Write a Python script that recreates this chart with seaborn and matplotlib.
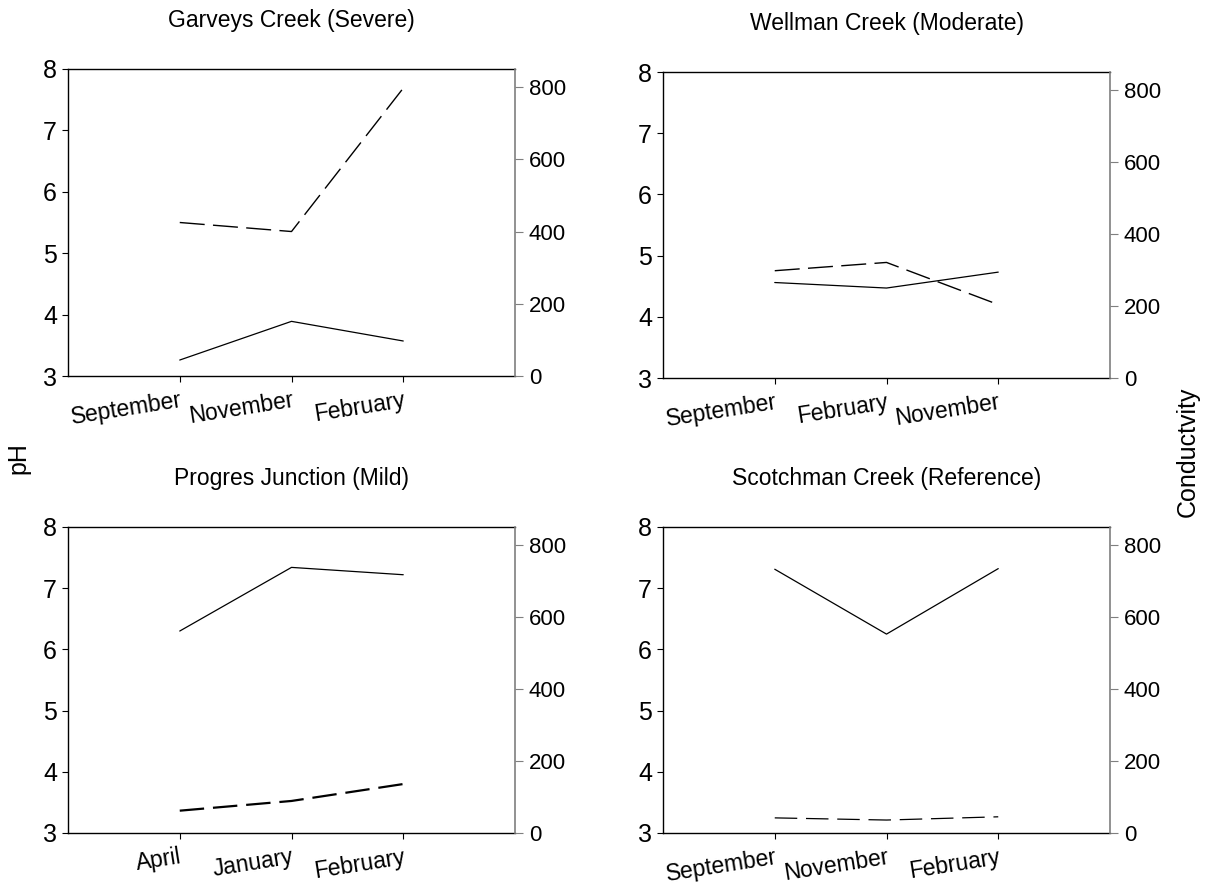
import matplotlib
matplotlib.use("Agg")
import matplotlib.pyplot as plt
import seaborn as sns

sns.set_style("ticks")
plt.rcParams['font.family'] = ['Liberation Sans', 'DejaVu Sans']
plt.rcParams.update({"text.color": "black", "axes.labelcolor": "black",
                     "xtick.color": "black", "ytick.color": "black",
                     "axes.edgecolor": "black"})

# Sampling months per site (in sampling order)
months_garveys = ["September", "November", "February"]
months_wellman = ["September", "February", "November"]
months_progres = ["April", "January", "February"]
months_scotchman = ["September", "November", "February"]

# pH (left axis)
ph_garveys = [3.26, 3.89, 3.57]
ph_wellman = [4.56, 4.47, 4.73]
ph_progres = [6.30, 7.34, 7.22]
ph_scotchman = [7.31, 6.25, 7.32]

# Conductivity (right axis)
cond_garveys = [425, 400, 797]
cond_wellman = [298, 321, 204]
cond_progres = [62, 89, 136]
cond_scotchman = [42, 36, 45]

titles = ["Garveys Creek (Severe)", "Wellman Creek (Moderate)",
          "Progres Junction (Mild)", "Scotchman Creek (Reference)"]

W, H = 1208, 884
fig = plt.figure(figsize=(W / 100, H / 100), dpi=100)

# axes boxes in pixels: left, top, right, bottom
boxes = [(68, 69, 515, 376), (663, 72, 1110, 378),
         (68, 527, 515, 833), (663, 527, 1110, 833)]

panels = [
    (months_garveys, ph_garveys, cond_garveys, 1.0, (18, 6)),
    (months_wellman, ph_wellman, cond_wellman, 1.0, (18, 6)),
    (months_progres, ph_progres, cond_progres, 1.6, (11, 4)),
    (months_scotchman, ph_scotchman, cond_scotchman, 0.9, (18, 7)),
]

grey = "#7f7f7f"
for (l, t, r, b), title, (months, ph, cond, dlw, dash) in zip(boxes, titles, panels):
    ax = fig.add_axes([l / W, 1 - b / H, (r - l) / W, (b - t) / H])
    sns.lineplot(x=months, y=ph, ax=ax, color="black", lw=0.9, sort=False)
    ax.set_xlim(-1, 3)
    ax.set_ylim(3, 8)
    ax.set_yticks([3, 4, 5, 6, 7, 8])
    ax.tick_params(axis="y", labelsize=18, length=4, width=0.8, pad=4, direction="out")
    ax.tick_params(axis="x", labelsize=16.5, length=4, width=0.8, pad=5, direction="out")
    for lab in ax.get_xticklabels():
        lab.set_rotation(9)
        lab.set_ha("right")
        lab.set_va("top")
        lab.set_rotation_mode("anchor")
    for s in ["left", "top", "bottom"]:
        ax.spines[s].set_color("black")
        ax.spines[s].set_linewidth(1.0)
    ax.spines["right"].set_visible(False)
    ax.set_xlabel("")
    ax.set_ylabel("")
    ax.set_title(title, fontsize=16.5, pad=30)

    ax2 = ax.twinx()
    sns.lineplot(x=months, y=cond, ax=ax2, color="black", lw=dlw, sort=False,
                 linestyle=(0, dash))
    ax2.set_ylim(0, 850)
    ax2.set_yticks([0, 200, 400, 600, 800])
    ax2.tick_params(axis="y", labelsize=16, length=6, width=0.8, pad=4,
                    color=grey, labelcolor="black", direction="out")
    for s in ["left", "top", "bottom"]:
        ax2.spines[s].set_visible(False)
    ax2.spines["right"].set_visible(True)
    ax2.spines["right"].set_color(grey)
    ax2.spines["right"].set_linewidth(1.2)
    ax2.set_ylabel("")

fig.text(18 / W, 1 - 458 / H, "pH", rotation=90, ha="center", va="center", fontsize=18)
fig.text(1188 / W, 1 - 452 / H, "Conductvity", rotation=90, ha="center", va="center", fontsize=18)

fig.savefig("out.png", dpi=100)
